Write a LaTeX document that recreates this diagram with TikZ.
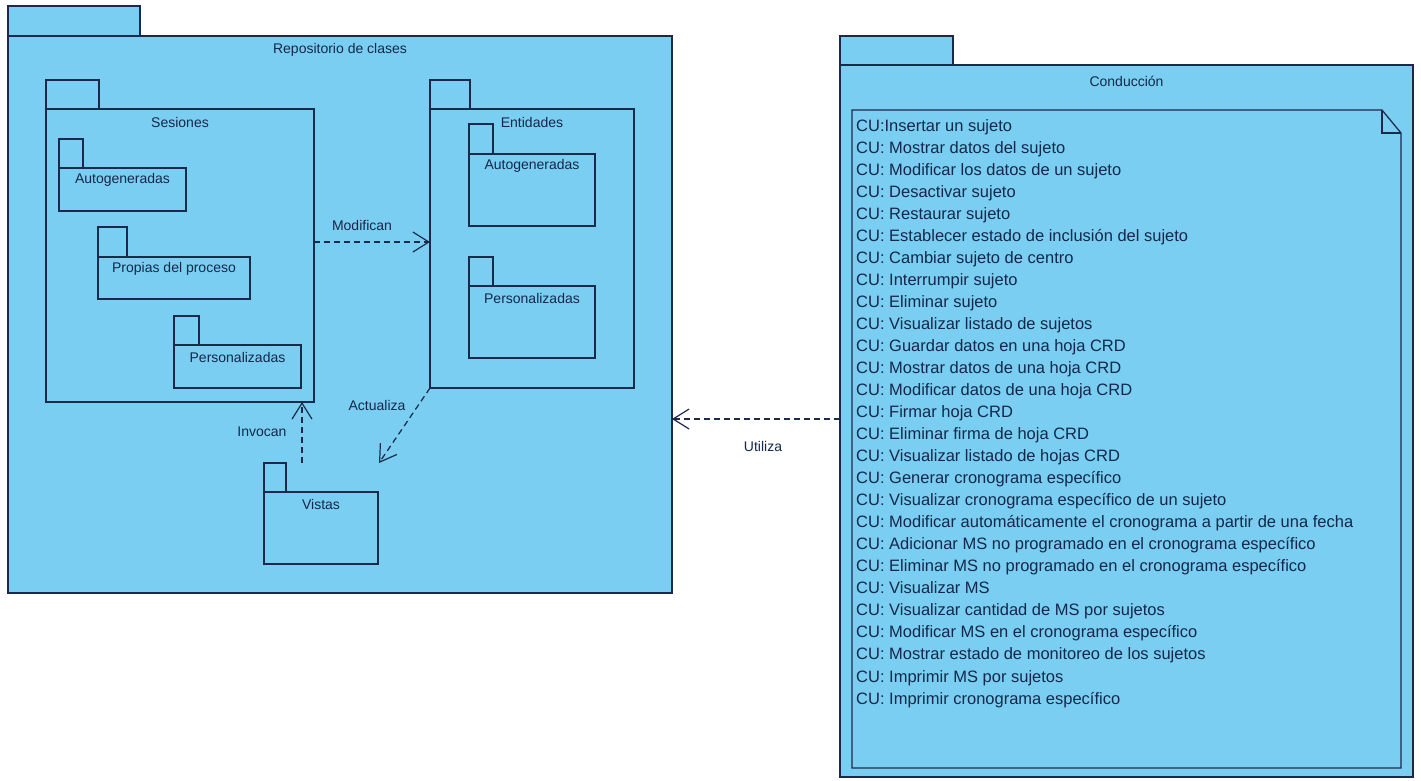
\documentclass[tikz,border=0pt]{standalone}
\usepackage{fontspec}
\setmainfont{Liberation Sans}
\usetikzlibrary{arrows.meta,calc}
\definecolor{pkgfill}{HTML}{7ACEF1}
\definecolor{pkgline}{HTML}{1B2A4A}
\definecolor{pkgtext}{HTML}{14284B}
% #1 name, #2 left x, #3 tab top y, #4 body top y, #5 right x, #6 bottom y, #7 tab right x, #8 label, #9 label offset
\newcommand\umlpkg[9]{%
  \node[pkgshape, anchor=north west, minimum width={#7-#2}, minimum height={#4-#3}] (#1-tab) at (#2,#3) {};
  \node[pkgshape, anchor=north west, minimum width={#5-#2}, minimum height={#6-#4}] (#1) at (#2,#4) {};
  \node[lbl] (#1-lbl) at ($(#1.north)+(0,#9)$) {#8};
}
\begin{document}
\begin{tikzpicture}[x=1pt,y=-1pt,
  pkgshape/.style={draw=pkgline, fill=pkgfill, line width=1.25pt, inner sep=0pt, outer sep=0pt},
  lbl/.style={text=pkgtext, font=\fontsize{14}{16}\selectfont, inner sep=0pt},
  cu/.style={text=pkgtext, font=\fontsize{16.5}{20}\selectfont, inner sep=0pt, anchor=base west},
  notesty/.style={draw=pkgline, line width=1.25pt, line join=miter},
  dep/.style={draw=pkgline, line width=1.25pt, dash pattern=on 6pt off 4pt,
    -{Straight Barb[length=16pt,width=20pt,line width=1.2pt]}}]
\fill[white] (0,0) rectangle (1421,780);
\useasboundingbox (0,0) rectangle (1421,780);

\umlpkg{rep}{8}{6}{36}{672}{593}{140}{Repositorio de clases}{14}
\umlpkg{ses}{46}{80}{109}{314}{402}{99}{Sesiones}{13}
\umlpkg{sesauto}{59}{139}{168}{186}{211}{83}{Autogeneradas}{12}
\umlpkg{prop}{98}{227}{257}{250}{299}{127}{Propias del proceso}{12}
\umlpkg{sespers}{174}{316}{345}{301}{388}{199}{Personalizadas}{12}
\umlpkg{ent}{430}{80}{109}{634}{388}{470}{Entidades}{13}
\umlpkg{entauto}{469}{124}{154}{595}{226}{493}{Autogeneradas}{12}
\umlpkg{entpers}{469}{257}{286}{595}{358}{493}{Personalizadas}{12}
\umlpkg{vis}{264}{463}{492}{378}{564}{286}{Vistas}{12}
\umlpkg{cond}{840}{36}{65}{1413}{777}{953}{Conducción}{16}

% note
\node[inner sep=0pt, outer sep=0pt, minimum width=549, minimum height=658, anchor=north west] (note) at (852,110) {};
\draw[notesty] (note.north west) -- ([xshift=-19pt]note.north east) -- ([yshift=-23pt]note.north east) -- (note.south east) -- (note.south west) -- cycle;
\draw[notesty] ([xshift=-19pt]note.north east) |- ([yshift=-23pt]note.north east);

\foreach \t [count=\i] in {%
CU:Insertar un sujeto,
CU: Mostrar datos del sujeto,
CU: Modificar los datos de un sujeto,
CU: Desactivar sujeto,
CU: Restaurar sujeto,
CU: Establecer estado de inclusión del sujeto,
CU: Cambiar sujeto de centro,
CU: Interrumpir sujeto,
CU: Eliminar sujeto,
CU: Visualizar listado de sujetos,
CU: Guardar datos en una hoja CRD,
CU: Mostrar datos de una hoja CRD,
CU: Modificar datos de una hoja CRD,
CU: Firmar hoja CRD,
CU: Eliminar firma de hoja CRD,
CU: Visualizar listado de hojas CRD,
CU: Generar cronograma específico,
CU: Visualizar cronograma específico de un sujeto,
CU: Modificar automáticamente el cronograma a partir de una fecha,
CU: Adicionar MS no programado en el cronograma específico,
CU: Eliminar MS no programado en el cronograma específico,
CU: Visualizar MS,
CU: Visualizar cantidad de MS por sujetos,
CU: Modificar MS en el cronograma específico,
CU: Mostrar estado de monitoreo de los sujetos,
CU: Imprimir MS por sujetos,
CU: Imprimir cronograma específico}
  \node[cu] (cu\i) at (856,{131+(\i-1)*22.04}) {\t};

% connectors
\coordinate (mY) at (0,242);
\draw[dep] (ses.east |- mY) -- (ent.west |- mY);
\node[lbl] (modlbl) at (362,225) {Modifican};

\coordinate (actE) at (379,463);
\draw[dep] (ent.south west) -- (actE);
\node[lbl] (actlbl) at (377,405) {Actualiza};

\coordinate (invS) at (302,463);
\draw[dep] (invS) -- (ses.south -| invS);
\node[lbl] (invlbl) at (262,432) {Invocan};

\coordinate (uY) at (0,419);
\draw[dep] (cond.west |- uY) -- (rep.east |- uY);
\node[lbl] (utllbl) at (763,446) {Utiliza};
\end{tikzpicture}
\end{document}
